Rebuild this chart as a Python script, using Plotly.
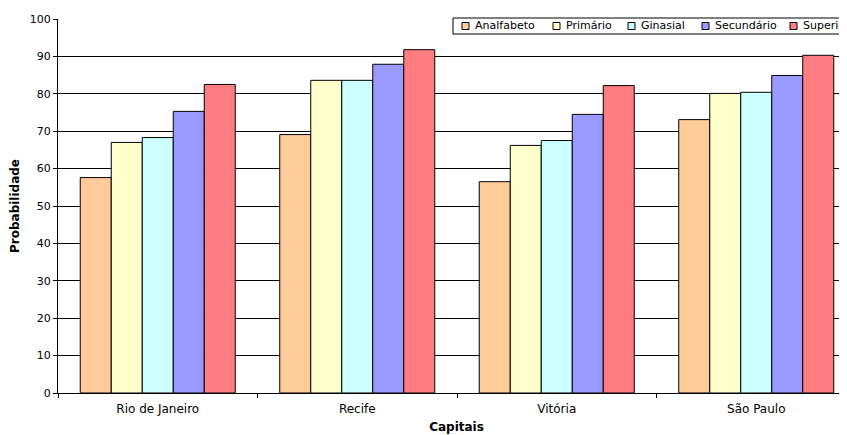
import plotly.graph_objects as go

capitais = ["Rio de Janeiro", "Recife", "Vitória", "São Paulo"]
series_names = ["Analfabeto", "Primário", "Ginasial", "Secundário", "Superior"]
analfabeto = [57.6, 69.1, 56.5, 73.1]
primario = [67.0, 83.6, 66.2, 80.1]
ginasial = [68.3, 83.6, 67.5, 80.4]
secundario = [75.3, 87.9, 74.5, 84.9]
superior = [82.5, 91.8, 82.2, 90.3]
colors = ["#FFCC99", "#FFFFCC", "#CCFFFF", "#9999FF", "#FF7C80"]
y_ticks = [0, 10, 20, 30, 40, 50, 60, 70, 80, 90, 100]

values = [analfabeto, primario, ginasial, secundario, superior]

W, H = 847, 435
ML, MR, MT, MB = 50, 0, 11, 50
PW, PH = W - ML - MR, H - MT - MB

def px_x(px):
    return (px - ML) / PW

def px_y(py):
    return (H - MB - py) / PH

font_family = "DejaVu Sans, Verdana, sans-serif"

fig = go.Figure()
for name, vals, col in zip(series_names, values, colors):
    fig.add_trace(go.Bar(
        x=capitais, y=vals, name=name,
        marker=dict(color=col, line=dict(color="#000000", width=1)),
        showlegend=False,
    ))

# Manual legend box (Excel-style, cut off at the right edge as in the reference)
leg_left, leg_top, leg_bottom = 445, 10, 26
leg_symbol_x = [454, 545, 620, 694, 782]
shapes = [dict(type="rect", xref="paper", yref="paper",
               x0=px_x(leg_left), x1=px_x(W + 20), y0=px_y(leg_bottom), y1=px_y(leg_top),
               fillcolor="white", line=dict(color="#000000", width=1), layer="above")]
annotations = []
yc = (leg_top + leg_bottom) / 2
for name, col, sx in zip(series_names, colors, leg_symbol_x):
    shapes.append(dict(type="rect", xref="paper", yref="paper",
                       x0=px_x(sx), x1=px_x(sx + 7), y0=px_y(yc + 3.5), y1=px_y(yc - 3.5),
                       fillcolor=col, line=dict(color="#000000", width=1), layer="above"))
    annotations.append(dict(text=name, xref="paper", yref="paper", x=px_x(sx + 11), y=px_y(yc),
                            xanchor="left", yanchor="middle", showarrow=False,
                            font=dict(family=font_family, size=11, color="#000000")))

fig.update_layout(
    width=W, height=H,
    margin=dict(l=ML, r=MR, t=MT, b=MB, autoexpand=False),
    paper_bgcolor="white", plot_bgcolor="white",
    barmode="group", bargap=0.223, bargroupgap=0,
    font=dict(family=font_family, size=11, color="#000000"),
    showlegend=False,
    shapes=shapes, annotations=annotations,
    xaxis=dict(
        range=[-0.5, 3.495], showgrid=False, showline=True, linecolor="#000000", linewidth=1,
        ticks="outside", tickson="boundaries", ticklen=4, tickcolor="#000000",
        tickfont=dict(size=12), zeroline=False, ticklabelstandoff=5,
        title=dict(text="<b>Capitais</b>", font=dict(size=12), standoff=7),
    ),
    yaxis=dict(
        range=[0, 100], tickvals=y_ticks, showgrid=True, gridcolor="#000000", gridwidth=1,
        showline=True, linecolor="#000000", linewidth=1, ticks="outside", ticklen=4,
        tickcolor="#000000", tickfont=dict(size=11), zeroline=False,
        title=dict(text="<b>Probabilidade</b>", font=dict(size=12), standoff=8),
    ),
)

fig.write_html("out.html")
